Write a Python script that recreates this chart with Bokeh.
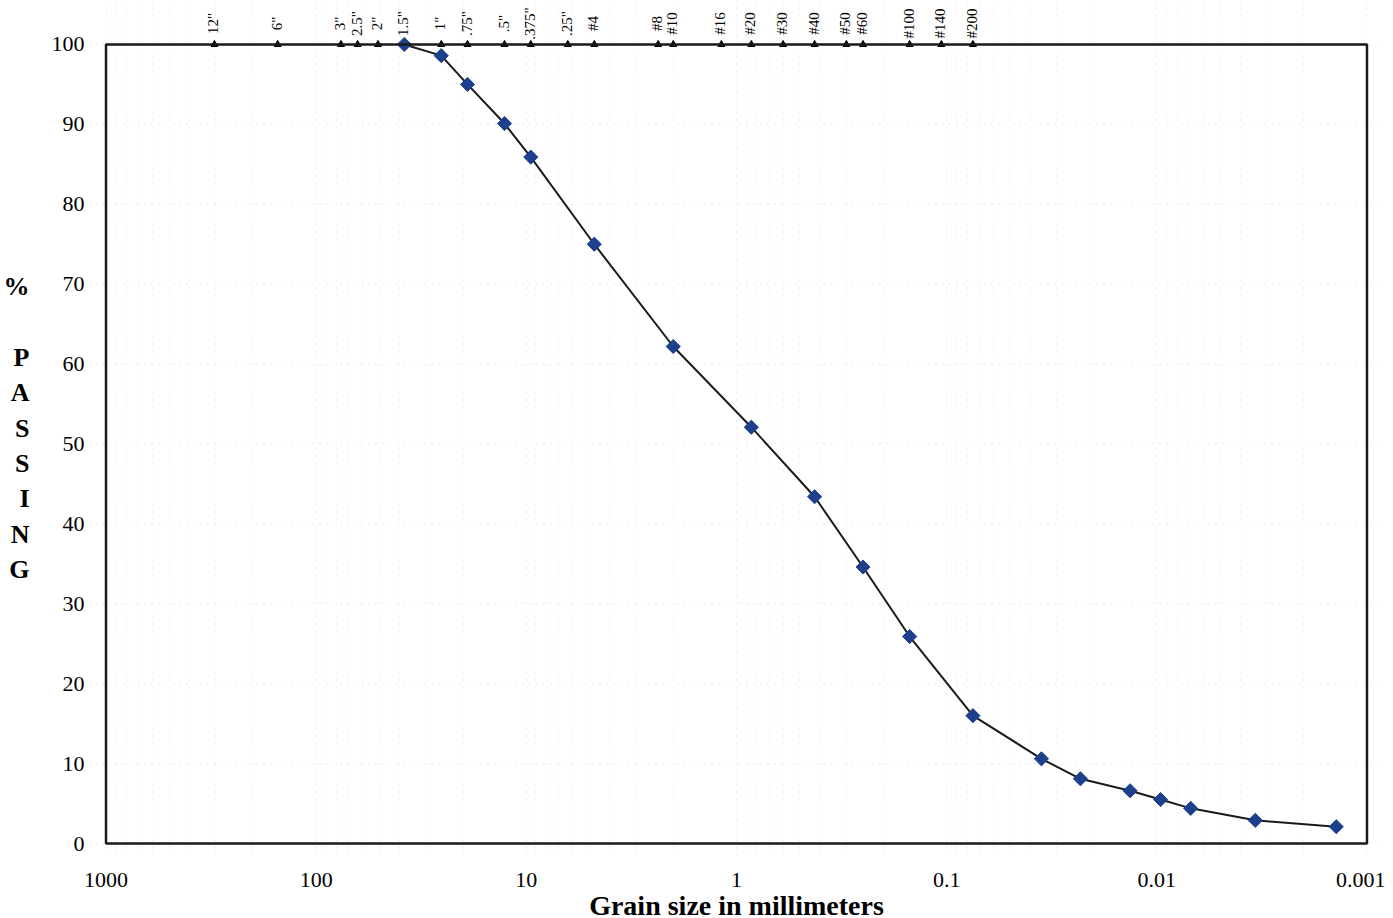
import math
from bokeh.plotting import figure
from bokeh.models import (Range1d, FixedTicker, CustomJSTickFormatter, BoxAnnotation,
                          ColumnDataSource)
from bokeh.embed import file_html
from bokeh.resources import INLINE
from bokeh.core.properties import value

# ---------------- data ----------------
grain_mm = [38.1, 25.4, 19.05, 12.7, 9.525, 4.75, 2.0, 0.85, 0.425, 0.25, 0.15, 0.075,
            0.0354, 0.0231, 0.0134, 0.0096, 0.0069, 0.0034, 0.0014]
percent_passing = [100, 98.6, 95.0, 90.1, 85.9, 75.0, 62.2, 52.1, 43.4, 34.6, 25.9, 16.0,
                   10.6, 8.1, 6.6, 5.5, 4.4, 2.9, 2.1]

sieve_labels = ['12"', '6"', '3"', '2.5"', '2"', '1.5"', '1"', '.75"', '.5"', '.375"', '.25"',
                '#4', '#8', '#10', '#16', '#20', '#30', '#40', '#50', '#60', '#100', '#140', '#200']
sieve_mm = [304.8, 152.4, 76.2, 63.5, 50.8, 38.1, 25.4, 19.05, 12.7, 9.525, 6.35,
            4.75, 2.36, 2.0, 1.18, 0.85, 0.6, 0.425, 0.3, 0.25, 0.15, 0.106, 0.075]
sieve_top = [100] * len(sieve_mm)

x_ticks = [1000, 100, 10, 1, 0.1, 0.01, 0.001]
y_ticks = [0, 10, 20, 30, 40, 50, 60, 70, 80, 90, 100]
y_title = "%\n\nP\nA\nS\nS\nI\nN\nG"

FONT = "Liberation Serif"

# ---------------- figure ----------------
x_pad = 10 ** 0.05
p = figure(width=1385, height=912, x_axis_type="log",
           x_range=Range1d(1000 * x_pad, 0.001 / x_pad),
           y_range=Range1d(-1.5, 105.5),
           output_backend="svg", toolbar_location=None,
           min_border_left=95, min_border_right=8, min_border_top=0, min_border_bottom=0)
p.frame_width = 1282
p.frame_height = 855
p.outline_line_color = None
p.background_fill_color = "white"
p.border_fill_color = "white"

# grids (very faint dotted)
minor_x = [m * 10 ** k for k in range(-3, 3) for m in range(2, 10)]
p.xaxis.ticker = FixedTicker(ticks=x_ticks, minor_ticks=minor_x)
p.yaxis.ticker = FixedTicker(ticks=y_ticks)
p.xgrid.grid_line_color = "#d9d9d9"
p.xgrid.grid_line_dash = "1 6"
p.xgrid.minor_grid_line_color = "#e2e2e2"
p.xgrid.minor_grid_line_dash = "1 6"
p.ygrid.grid_line_color = "#d9d9d9"
p.ygrid.grid_line_dash = "1 6"

# axes
p.xaxis.formatter = CustomJSTickFormatter(code="return String(tick);")
for ax in (p.xaxis, p.yaxis):
    ax.axis_line_color = None
    ax.major_tick_line_color = None
    ax.minor_tick_line_color = None
    ax.major_label_text_font = FONT
    ax.major_label_text_color = "black"
p.xaxis.major_label_text_font_size = "22px"
p.yaxis.major_label_text_font_size = "22px"
p.xaxis.major_label_standoff = 11
p.yaxis.major_label_standoff = 5

p.xaxis.axis_label = "Grain size in millimeters"
p.xaxis.axis_label_text_font = FONT
p.xaxis.axis_label_text_font_style = "bold"
p.xaxis.axis_label_text_font_size = "28px"
p.xaxis.axis_label_text_color = "black"
p.xaxis.axis_label_standoff = 0

p.yaxis.axis_label = y_title
p.yaxis.axis_label_orientation = "horizontal"
p.yaxis.axis_label_text_font = FONT
p.yaxis.axis_label_text_font_style = "bold"
p.yaxis.axis_label_text_font_size = "26px"
p.yaxis.axis_label_text_line_height = 1.22
p.yaxis.axis_label_text_color = "black"
p.yaxis.axis_label_text_align = "center"
p.yaxis.axis_label_standoff = 19

# plot border box
p.add_layout(BoxAnnotation(left=1000, right=0.001, bottom=0, top=100,
                           fill_color=None, fill_alpha=0, line_color="#1a1a1a",
                           line_alpha=1.0, line_width=2.5))

# sieve markers along the top
sieves = ColumnDataSource(dict(x=sieve_mm, y=sieve_top, label=sieve_labels))
p.scatter("x", "y", source=sieves, marker="triangle", size=7,
          fill_color="black", line_color="black")
p.text("x", "y", text="label", source=sieves, angle=math.pi / 2,
       text_align="center", text_baseline="middle", y_offset=-21, x_offset=-1,
       text_font=value(FONT), text_font_size="15px", text_color="black")

# gradation curve
src = ColumnDataSource(dict(x=grain_mm, y=percent_passing))
p.line("x", "y", source=src, line_color="#1a1a1a", line_width=2)
p.scatter("x", "y", source=src, marker="square", angle=math.pi / 4, size=10,
          fill_color="#1c3f8e", line_color="#1c3f8e")

open("out.html", "w").write(file_html(p, INLINE))
